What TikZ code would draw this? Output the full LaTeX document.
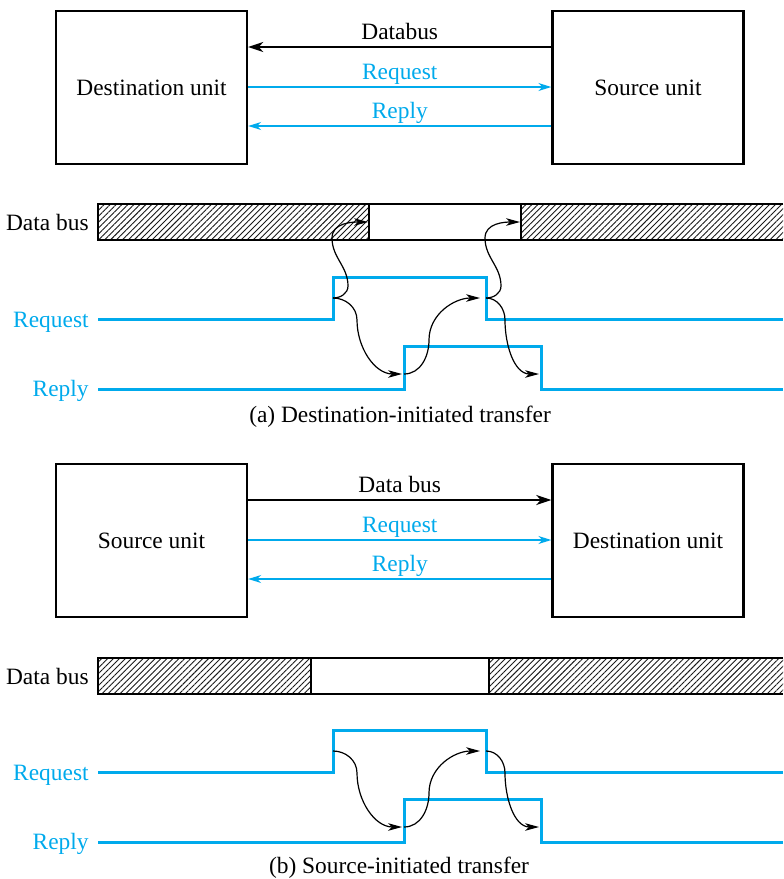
\documentclass[tikz,border=0pt]{standalone}
\usepackage{fontspec}
\setmainfont{Liberation Serif}
\usetikzlibrary{arrows.meta,patterns.meta}
\definecolor{sinal}{RGB}{0,170,236}

\begin{document}
\begin{tikzpicture}[x=.5pt,y=-.5pt,
  unidade/.style={draw,line width=1.2pt,minimum width=95.5pt,minimum height=76.5pt,inner sep=0pt,font=\fontsize{11.7}{14}\selectfont},
  barramento/.style={-{Stealth[length=7.5pt,width=5pt,inset=2.2pt]},line width=1.1pt},
  controle/.style={-{Stealth[length=6.5pt,width=4pt,inset=2pt]},sinal,line width=.6pt},
  rotulo/.style={font=\fontsize{11.7}{14}\selectfont,inner sep=0pt,anchor=base},
  nome/.style={font=\fontsize{11.7}{14}\selectfont,inner sep=0pt,anchor=base east},
  onda/.style={sinal,line width=1.5pt},
  causa/.style={-{Stealth[length=7pt,width=3.8pt,inset=2pt]},line width=.6pt},
  hachura/.style={pattern={Lines[angle=45,distance=2.1pt,line width=.45pt]},pattern color=black!90}]
  \useasboundingbox (0,0) rectangle (783,879);

  % (a) destination-initiated
  \node[unidade] (desta) at (151.5,87.5) {Destination unit};
  \node[unidade] (srca) at (648,87.5) {Source unit};
  \draw[barramento] (srca.west |- 0,47) -- node[rotulo,yshift=4pt]{Databus} (desta.east |- 0,47);
  \draw[controle] (desta.east |- 0,87) -- node[rotulo,sinal,yshift=4pt]{Request} (srca.west |- 0,87);
  \draw[controle] (srca.west |- 0,126) -- node[rotulo,sinal,yshift=4pt]{Reply} (desta.east |- 0,126);

  \node[nome] (bus1) at (89,230) {Data bus};
  \node[nome,sinal] (req1) at (89,327) {Request};
  \node[nome,sinal] (rep1) at (89,396) {Reply};
  \fill[hachura] (98,204) rectangle (369,240);
  \fill[hachura] (521,204) rectangle (783,240);
  \draw[line width=1.2pt] (783,204) -- (98,204) -- (98,240) -- (783,240);
  \draw[line width=1.4pt] (369,204) -- (369,240) (521,204) -- (521,240);
  \draw[onda] (98,319) -| (333,277) -| (486,319) -- (783,319);
  \draw[onda] (98,389) -| (404,346) -| (541,389) -- (783,389);

  \coordinate (rqa) at (333,298);
  \coordinate (rpa) at (404,374);
  \coordinate (rqfa) at (486,298);
  \coordinate (rpfa) at (541,374);
  \coordinate (dba) at (368,222);
  \coordinate (dbfa) at (520,222);
  \draw[causa] (rqa) to[out=0,in=-90] (348,286) to[out=90,in=-90] (332,238) to[out=90,in=180] (dba);
  \draw[causa] (rqa) to[out=0,in=90] (357,320) to[out=-90,in=180] ([xshift=-1]rpa);
  \draw[causa] (rpa) to[out=0,in=-90] (429,340) to[out=90,in=180] ([xshift=-3]rqfa);
  \draw[causa] (rqfa) to[out=0,in=-90] (501,286) to[out=90,in=-90] (485,238) to[out=90,in=180] (dbfa);
  \draw[causa] (rqfa) to[out=0,in=90] (505,320) to[out=-90,in=180] ([xshift=-1]rpfa);
  \node[rotulo] (capa) at (400,422) {(a) Destination-initiated transfer};

  % (b) source-initiated
  \node[unidade] (srcb) at (151.5,540.5) {Source unit};
  \node[unidade] (destb) at (648,540.5) {Destination unit};
  \draw[barramento] (srcb.east |- 0,500) -- node[rotulo,yshift=4pt]{Data bus} (destb.west |- 0,500);
  \draw[controle] (srcb.east |- 0,540) -- node[rotulo,sinal,yshift=4pt]{Request} (destb.west |- 0,540);
  \draw[controle] (destb.west |- 0,579) -- node[rotulo,sinal,yshift=4pt]{Reply} (srcb.east |- 0,579);

  \node[nome] (bus2) at (89,684) {Data bus};
  \node[nome,sinal] (req2) at (89,780) {Request};
  \node[nome,sinal] (rep2) at (89,849) {Reply};
  \fill[hachura] (98,658) rectangle (311,694);
  \fill[hachura] (489,658) rectangle (783,694);
  \draw[line width=1.2pt] (783,658) -- (98,658) -- (98,694) -- (783,694);
  \draw[line width=1.4pt] (311,658) -- (311,694) (489,658) -- (489,694);
  \draw[onda] (98,772) -| (333,730) -| (486,772) -- (783,772);
  \draw[onda] (98,842) -| (404,799) -| (541,842) -- (783,842);

  \coordinate (rqb) at (333,751);
  \coordinate (rpb) at (404,827);
  \coordinate (rqfb) at (486,751);
  \coordinate (rpfb) at (541,827);
  \draw[causa] (rqb) to[out=0,in=90] (357,773) to[out=-90,in=180] ([xshift=-1]rpb);
  \draw[causa] (rpb) to[out=0,in=-90] (429,793) to[out=90,in=180] ([xshift=-3]rqfb);
  \draw[causa] (rqfb) to[out=0,in=90] (505,773) to[out=-90,in=180] ([xshift=-1]rpfb);
  \node[rotulo] (capb) at (399,873) {(b) Source-initiated transfer};
\end{tikzpicture}
\end{document}
